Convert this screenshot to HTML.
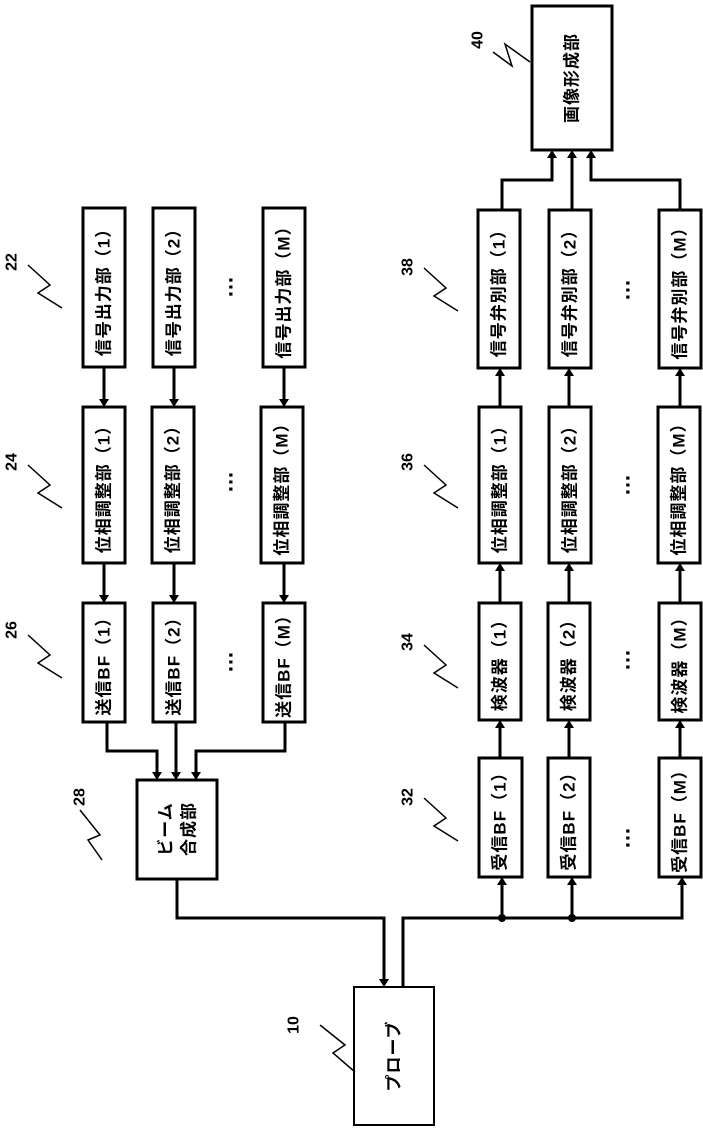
<!DOCTYPE html>
<html><head><meta charset="utf-8"><style>
html,body{margin:0;padding:0;background:#fff;}
svg text{font-family:"Liberation Sans","Noto Sans CJK JP",sans-serif;font-weight:bold;fill:#000;}
</style></head><body>
<svg width="703" height="1128" viewBox="0 0 703 1128" xmlns="http://www.w3.org/2000/svg">
<g fill="none" stroke="#000" stroke-width="3">
<!-- left column boxes -->
<rect x="83" y="208" width="42" height="159"/><rect x="153" y="208" width="42" height="159"/><rect x="263" y="208" width="42" height="159"/>
<rect x="83" y="407" width="42" height="156"/><rect x="152" y="407" width="42" height="156"/><rect x="261" y="407" width="42" height="156"/>
<rect x="83" y="603" width="42" height="119"/><rect x="153" y="603" width="42" height="119"/><rect x="263" y="603" width="42" height="119"/>
<rect x="137" y="780" width="80" height="99"/>
<rect x="354" y="987" width="80" height="138" stroke-width="2"/>
<!-- right column -->
<rect x="532" y="6" width="80" height="144"/>
<rect x="479" y="758" width="43" height="119"/><rect x="548" y="758" width="42" height="119"/><rect x="659" y="758" width="42" height="119"/>
<rect x="479" y="603" width="42" height="117"/><rect x="548" y="603" width="42" height="117"/><rect x="659" y="603" width="42" height="117"/>
<rect x="479" y="407" width="42" height="156"/><rect x="549" y="407" width="42" height="156"/><rect x="658" y="407" width="42" height="156"/>
<rect x="478" y="210" width="42" height="158"/><rect x="549" y="210" width="42" height="158"/><rect x="659" y="210" width="42" height="158"/>
<!-- wires -->
<path d="M104 367V399M174 367V399M284 367V399"/>
<path d="M104 563V595M174 563V595M284 563V595"/>
<path d="M107 722V751H157V772M176 722V772M285 722V751H196V772"/>
<path d="M177 879V918H384V979"/>
<path d="M403 987V918H682V885M502 918V885M572 918V885"/>
<path d="M500 758V728M569 758V728M680 758V728"/>
<path d="M500 603V571M569 603V571M680 603V571"/>
<path d="M500 407V376M569 407V376M680 407V376"/>
<path d="M502 210V180H552V158M572 210V158M680 210V180H591V158"/>
<!-- squiggles -->
<g stroke-width="1.5">
<path d="M28 265L50 285L38 293L62 308"/><path d="M28 465L50 485L38 493L62 508"/><path d="M28 635L50 655L38 663L62 678"/>
<path d="M80 810L100 835L88 840L102 860"/>
<path d="M424 268L446 288L434 296L458 311"/><path d="M424 465L446 485L434 493L458 508"/><path d="M424 645L446 665L434 673L458 688"/><path d="M424 798L446 818L434 826L458 841"/>
<path d="M493 52L512 66L505 44L530 62"/>
<path d="M320 1025L345 1045L333 1053L355 1072"/>
</g>
</g>
<g fill="#000">
<circle cx="502" cy="918" r="4"/><circle cx="572" cy="918" r="4"/>
<path d="M99 399h10l-5 8zM169 399h10l-5 8zM279 399h10l-5 8z"/>
<path d="M99 595h10l-5 8zM169 595h10l-5 8zM279 595h10l-5 8z"/>
<path d="M152 772h10l-5 8zM171 772h10l-5 8zM191 772h10l-5 8z"/>
<path d="M379 979h10l-5 8z"/>
<path d="M497 885h10l-5 -8zM567 885h10l-5 -8zM677 885h10l-5 -8z"/>
<path d="M495 728h10l-5 -8zM564 728h10l-5 -8zM675 728h10l-5 -8z"/>
<path d="M495 571h10l-5 -8zM564 571h10l-5 -8zM675 571h10l-5 -8z"/>
<path d="M495 376h10l-5 -8zM564 376h10l-5 -8zM675 376h10l-5 -8z"/>
<path d="M547 158h10l-5 -8zM567 158h10l-5 -8zM586 158h10l-5 -8z"/>
</g>
<g font-size="17" text-anchor="middle" dominant-baseline="central" letter-spacing="1">
<text transform="translate(104,288) rotate(-90)">信号出力部（1）</text>
<text transform="translate(174,288) rotate(-90)">信号出力部（2）</text>
<text transform="translate(284,288) rotate(-90)">信号出力部（M）</text>
<text transform="translate(104,485) rotate(-90)">位相調整部（1）</text>
<text transform="translate(173,485) rotate(-90)">位相調整部（2）</text>
<text transform="translate(282,485) rotate(-90)">位相調整部（M）</text>
<text transform="translate(104,662) rotate(-90)">送信BF（1）</text>
<text transform="translate(174,662) rotate(-90)">送信BF（2）</text>
<text transform="translate(284,662) rotate(-90)">送信BF（M）</text>
<text transform="translate(166,829) rotate(-90)">ビーム</text>
<text transform="translate(189,829) rotate(-90)">合成部</text>
<text transform="translate(394,1056) rotate(-90)" font-weight="normal">プローブ</text>
<text transform="translate(572,78) rotate(-90)">画像形成部</text>
<text transform="translate(500,817) rotate(-90)">受信BF（1）</text>
<text transform="translate(569,817) rotate(-90)">受信BF（2）</text>
<text transform="translate(680,817) rotate(-90)">受信BF（M）</text>
<text transform="translate(500,661) rotate(-90)">検波器（1）</text>
<text transform="translate(569,661) rotate(-90)">検波器（2）</text>
<text transform="translate(680,661) rotate(-90)">検波器（M）</text>
<text transform="translate(500,485) rotate(-90)">位相調整部（1）</text>
<text transform="translate(570,485) rotate(-90)">位相調整部（2）</text>
<text transform="translate(679,485) rotate(-90)">位相調整部（M）</text>
<text transform="translate(499,289) rotate(-90)">信号弁別部（1）</text>
<text transform="translate(570,289) rotate(-90)">信号弁別部（2）</text>
<text transform="translate(680,289) rotate(-90)">信号弁別部（M）</text>
</g>
<g font-size="16" text-anchor="middle" dominant-baseline="central" font-weight="normal">
<text transform="translate(12,262) rotate(-90)">22</text>
<text transform="translate(12,462) rotate(-90)">24</text>
<text transform="translate(12,630) rotate(-90)">26</text>
<text transform="translate(80,797) rotate(-90)">28</text>
<text transform="translate(408,267) rotate(-90)">38</text>
<text transform="translate(408,462) rotate(-90)">36</text>
<text transform="translate(408,642) rotate(-90)">34</text>
<text transform="translate(408,797) rotate(-90)">32</text>
<text transform="translate(478,40) rotate(-90)">40</text>
<text transform="translate(294,1025) rotate(-90)">10</text>
</g>
<g font-size="22" text-anchor="middle" dominant-baseline="central">
<text transform="translate(225,287) rotate(-90)">…</text>
<text transform="translate(225,482) rotate(-90)">…</text>
<text transform="translate(225,662) rotate(-90)">…</text>
<text transform="translate(622,290) rotate(-90)">…</text>
<text transform="translate(622,485) rotate(-90)">…</text>
<text transform="translate(622,660) rotate(-90)">…</text>
<text transform="translate(622,838) rotate(-90)">…</text>
</g>
</svg>
</body></html>
